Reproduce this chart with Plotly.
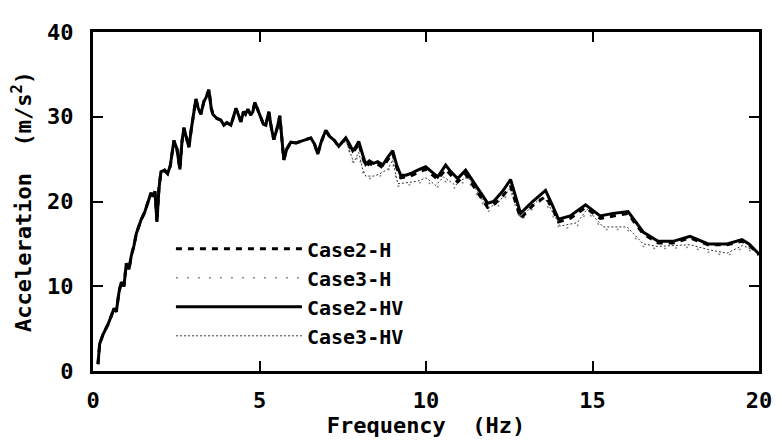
import plotly.graph_objects as go

# ---- data ----
freq_low = [0.15, 0.2, 0.3, 0.45, 0.55, 0.63, 0.7, 0.78, 0.85, 0.93, 1.0, 1.08, 1.15, 1.23,
            1.3, 1.38, 1.44, 1.55, 1.65, 1.74, 1.8, 1.86, 1.92, 1.98, 2.04, 2.15, 2.24, 2.32,
            2.43, 2.52, 2.61, 2.67, 2.73, 2.8, 2.88, 2.95, 3.02, 3.09, 3.16, 3.24, 3.33, 3.4,
            3.48, 3.55, 3.6, 3.72, 3.84, 3.93, 4.02, 4.14, 4.22, 4.29, 4.36, 4.44, 4.52, 4.58,
            4.65, 4.74, 4.8, 4.86, 4.95, 5.05, 5.12, 5.19, 5.28, 5.36, 5.43, 5.52, 5.61, 5.67,
            5.73, 5.82, 5.94, 6.1, 6.25, 6.4, 6.54, 6.65, 6.75, 6.85, 6.99, 7.1, 7.25, 7.38, 7.48]
accel_low = [0.8, 3.2, 4.3, 5.5, 6.5, 7.4, 7.0, 9.3, 10.5, 10.0, 12.7, 12.0, 13.6, 14.8,
             16.2, 17.2, 17.8, 18.7, 19.8, 21.0, 20.6, 21.2, 17.6, 21.5, 23.5, 23.7, 23.3, 24.2,
             27.2, 26.2, 23.8, 27.0, 28.7, 27.5, 26.4, 28.5, 30.5, 32.1, 31.0, 30.3, 31.8, 32.3,
             33.2, 31.0, 30.3, 29.8, 29.6, 29.0, 29.3, 29.0, 30.0, 31.0, 30.3, 29.4, 30.6, 30.3,
             30.9, 30.2, 30.6, 31.7, 30.8, 29.8, 29.1, 29.0, 30.6, 28.6, 27.3, 28.5, 30.1, 27.5,
             24.9, 26.2, 27.0, 26.9, 27.1, 27.3, 27.5, 26.8, 25.6, 27.0, 28.4, 27.7, 27.2, 26.5, 27.0]

freq_case2_high = [7.59, 7.7, 7.8, 7.9, 7.98, 8.1, 8.19, 8.3, 8.42, 8.55, 8.7, 8.85, 9.0, 9.12,
                   9.24, 9.4, 9.54, 9.75, 9.99, 10.2, 10.35, 10.47, 10.59, 10.75, 10.95, 11.19,
                   11.5, 11.85, 12.03, 12.3, 12.54, 12.7, 12.84, 13.2, 13.59, 13.8, 13.98, 14.33,
                   14.79, 15.23, 15.62, 16.07, 16.3, 16.52, 16.97, 17.42, 17.93, 18.47, 19.04,
                   19.49, 19.7, 20.0]
accel_case2_hv_high = [27.5, 26.8, 26.0, 26.5, 27.1, 25.5, 24.4, 24.8, 24.5, 24.7, 24.3, 25.2,
                       26.0, 24.3, 23.1, 23.1, 23.3, 23.7, 24.1, 23.4, 22.9, 23.6, 24.3, 23.5,
                       22.7, 23.7, 21.8, 19.8, 20.0, 21.2, 22.6, 20.5, 18.6, 20.0, 21.3, 19.5,
                       17.9, 18.3, 19.6, 18.3, 18.6, 18.8, 17.5, 16.4, 15.3, 15.3, 15.9, 15.0,
                       15.0, 15.5, 15.0, 13.8]
accel_case2_h_high = [27.4, 26.6, 25.8, 26.3, 26.9, 25.2, 24.1, 24.5, 24.2, 24.4, 24.0, 24.9,
                      25.7, 24.0, 22.8, 22.9, 23.0, 23.4, 23.8, 23.1, 22.6, 23.2, 23.8, 23.1,
                      22.3, 23.2, 21.3, 19.3, 19.6, 20.6, 21.8, 19.8, 18.0, 19.5, 20.6, 19.2,
                      17.6, 18.0, 19.3, 18.0, 18.3, 18.6, 17.3, 16.2, 15.1, 15.1, 15.7, 14.9,
                      14.9, 15.3, 14.9, 13.7]

freq_case3_high = [7.59, 7.65, 7.83, 7.98, 8.1, 8.19, 8.43, 8.58, 8.85, 9.0, 9.15, 9.4, 9.75,
                   10.0, 10.29, 10.53, 10.89, 11.0, 11.25, 11.5, 11.85, 12.15, 12.54, 12.84,
                   13.43, 13.6, 14.03, 14.54, 14.84, 15.32, 16.04, 16.52, 16.94, 17.93, 18.5,
                   19.04, 19.5, 19.9]
accel_case3_h_high = [27.0, 26.4, 24.3, 25.5, 23.5, 22.7, 22.7, 22.9, 23.5, 24.6, 21.8, 21.9,
                      22.1, 22.5, 21.5, 22.5, 21.5, 22.0, 22.5, 21.0, 18.8, 19.4, 21.2, 17.7,
                      20.0, 19.8, 16.7, 17.1, 18.8, 16.7, 16.7, 14.7, 14.4, 14.6, 14.0, 13.6,
                      14.5, 14.0]
accel_case3_hv_high = [27.2, 26.6, 24.6, 25.8, 23.8, 23.0, 23.0, 23.2, 23.8, 24.9, 22.1, 22.2,
                       22.4, 22.8, 21.9, 22.9, 21.9, 22.4, 22.9, 21.4, 19.2, 19.8, 21.6, 18.1,
                       20.4, 20.2, 17.1, 17.5, 19.1, 17.0, 17.0, 15.0, 14.7, 14.9, 14.3, 13.9,
                       14.8, 14.2]

x_ticks = [0, 5, 10, 15, 20]
y_ticks = [0, 10, 20, 30, 40]

FONT = "DejaVu Sans Mono"
TXT = dict(family=FONT, size=22, color="black", weight="bold")
LEG = dict(family=FONT, size=20, color="black", weight="bold")

fig = go.Figure()
fig.add_trace(go.Scatter(x=freq_low + freq_case3_high, y=accel_low + accel_case3_h_high,
                         mode="lines", name="Case3-H", legendrank=2,
                         line=dict(color="#8a8a8a", width=1.5, dash="2px,9px")))
fig.add_trace(go.Scatter(x=freq_low + freq_case3_high, y=accel_low + accel_case3_hv_high,
                         mode="lines", name="Case3-HV", legendrank=4,
                         line=dict(color="#333333", width=1, dash="2px,2px")))
fig.add_trace(go.Scatter(x=freq_low + freq_case2_high, y=accel_low + accel_case2_h_high,
                         mode="lines", name="Case2-H", legendrank=1,
                         line=dict(color="black", width=3, dash="6px,6px")))
fig.add_trace(go.Scatter(x=freq_low + freq_case2_high, y=accel_low + accel_case2_hv_high,
                         mode="lines", name="Case2-HV", legendrank=3,
                         line=dict(color="black", width=3)))

axis_common = dict(showgrid=False, zeroline=False, showline=True, linecolor="black",
                   linewidth=3, mirror="allticks", ticks="inside", ticklen=10, tickwidth=2,
                   tickcolor="black", tickfont=TXT)

fig.update_xaxes(range=[0, 20], tickvals=x_ticks, ticktext=[str(v) for v in x_ticks],
                 ticklabelstandoff=8,
                 title=dict(text="Frequency  (Hz)", font=TXT, standoff=0),
                 **axis_common)
fig.update_yaxes(range=[0, 40], tickvals=y_ticks, ticktext=[str(v) for v in y_ticks],
                 ticklabelstandoff=12,
                 title=dict(text="Acceleration  (m/s<sup>2</sup>)", font=TXT, standoff=12),
                 **axis_common)

# page body has an 8px default margin; margins compensate so the plot area sits
# at the reference position inside the 782x445 window
fig.update_layout(
    width=782, height=445,
    margin=dict(l=84, r=31, t=21, b=82),
    paper_bgcolor="white", plot_bgcolor="white",
    font=TXT,
    showlegend=True,
    legend=dict(x=0.117, y=0.418, xanchor="left", yanchor="top", bgcolor="rgba(0,0,0,0)",
                itemwidth=126, font=LEG, tracegroupgap=0),
)

fig.write_html("out.html")
